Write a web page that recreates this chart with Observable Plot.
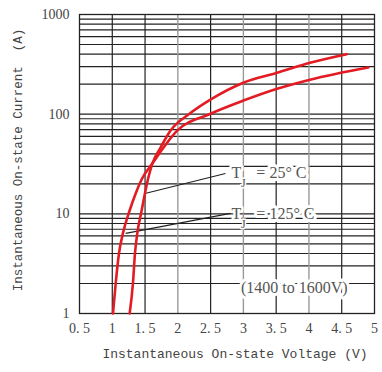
<!DOCTYPE html>
<html><head><meta charset="utf-8">
<script src="https://cdn.jsdelivr.net/npm/d3@7"></script>
<script src="https://cdn.jsdelivr.net/npm/@observablehq/plot@0.6"></script>
<style>body{margin:0;background:#fff}</style>
</head><body><div id="chart"></div>
<script>
// Tj = 25°C curve
const v25 = [1.265, 1.315, 1.346, 1.382, 1.448, 1.498, 1.547, 1.611, 1.737, 1.889, 2.178, 2.497, 3.0, 3.515, 4.017, 4.577];
const i25 = [1.0, 2.0, 4.0, 6.4, 10.8, 16.0, 22.6, 31.9, 46.2, 68.4, 101, 140, 207, 260, 328, 400];
// Tj = 125°C curve
const v125 = [1.011, 1.052, 1.102, 1.163, 1.265, 1.357, 1.455, 1.611, 1.991, 2.497, 3.0, 3.515, 4.017, 4.906];
const i125 = [1.0, 2.0, 4.0, 6.4, 10.8, 16.0, 22.6, 31.9, 68.4, 101, 137, 180, 222, 294];

const xTicks = [0.5, 1, 1.5, 2, 2.5, 3, 3.5, 4, 4.5, 5];
const xTickLabels = ["0. 5", "1", "1. 5", "2", "2. 5", "3", "3. 5", "4", "4. 5", "5"];
const yTicks = [1, 10, 100, 1000];
const yTickLabels = ["1", "10", "100", "1000"];
const yGrid = [2,3,4,5,6,7,8,9,10,20,30,40,50,60,70,80,90,100,200,300,400,500,600,700,800,900];
const xGridDark = [1, 1.5, 2.5, 3.5, 4.5];
const xGridGray = [2, 3, 4];

const xLabel = "Instantaneous On-state Voltage (V)";
const yLabel = "Instantaneous On-state Current\u00a0\u00a0(A)";

// annotations
const annT = ["T", "T"];
const annSub = ["J", "J"];
const annRest = ["=\u00a025°\u00a0C", "=\u00a0125°\u00a0C"];
const annTV = [2.817, 2.817];
const annTI = [25.7, 10.1];
const annSubV = [3.0, 3.0];
const annSubI = [20.2, 7.9];
const annRestV = [3.198, 3.198];
const leaderV1 = [1.498, 1.204];
const leaderI1 = [16.0, 6.36];
const leaderV2 = [2.726, 2.802];
const leaderI2 = [25.4, 10.1];
const rangeText = ["(1400 to 1600V)"];
const rangeV = [3.776];
const rangeI = [1.79];

const red = "#e31b23";
const c25 = v25.map((v, k) => ({v, i: i25[k]}));
const c125 = v125.map((v, k) => ({v, i: i125[k]}));
const ann = annT.map((t, k) => ({t, sub: annSub[k], rest: annRest[k], tv: annTV[k], ti: annTI[k], sv: annSubV[k], si: annSubI[k], rv: annRestV[k]}));
const leaders = leaderV1.map((v, k) => ({x1: v, y1: leaderI1[k], x2: leaderV2[k], y2: leaderI2[k]}));
const range = rangeText.map((t, k) => ({t, v: rangeV[k], i: rangeI[k]}));

const chart = Plot.plot({
  width: 382, height: 372,
  marginLeft: 79, marginRight: 8, marginTop: 14, marginBottom: 59,
  style: {background: "#fff", color: "#444"},
  x: {domain: [0.5, 5]},
  y: {type: "log", domain: [1, 1000]},
  marks: [
    Plot.ruleY(yGrid, {stroke: "#222", strokeWidth: 1.2}),
    Plot.ruleX(xGridDark, {stroke: "#222", strokeWidth: 1.2}),
    Plot.ruleX(xGridGray, {stroke: "#999", strokeWidth: 1.4}),
    Plot.frame({stroke: "#222", strokeWidth: 1.3}),
    Plot.text(range, {x: "v", y: "i", text: "t", fontFamily: "Liberation Serif", fontSize: 16, fill: "#555", stroke: "#fff", strokeWidth: 6}),
    Plot.text(ann, {x: "rv", y: "ti", text: "rest", textAnchor: "start", fontFamily: "Liberation Serif", fontSize: 16, fill: "#555", stroke: "#fff", strokeWidth: 6}),
    Plot.text(ann, {x: "tv", y: "ti", text: "t", textAnchor: "start", fontFamily: "Liberation Serif", fontSize: 16, fill: "#555", stroke: "#fff", strokeWidth: 5}),
    Plot.text(ann, {x: "sv", y: "si", text: "sub", fontFamily: "Liberation Serif", fontSize: 12, fill: "#555", stroke: "#fff", strokeWidth: 3}),
    Plot.link(leaders, {x1: "x1", y1: "y1", x2: "x2", y2: "y2", stroke: "#222", strokeWidth: 1.2}),
    Plot.line(c125, {x: "v", y: "i", stroke: red, strokeWidth: 2.6, curve: "monotone-x"}),
    Plot.line(c25, {x: "v", y: "i", stroke: red, strokeWidth: 2.6, curve: "monotone-x"}),
    Plot.axisX({ticks: xTicks, tickFormat: d => xTickLabels[xTicks.indexOf(d)], tickSize: 0, tickPadding: 10, label: null, fontFamily: "Liberation Serif", fontSize: 14, fill: "#444"}),
    Plot.axisY({ticks: yTicks, tickFormat: d => yTickLabels[yTicks.indexOf(d)], tickSize: 0, tickPadding: 10, label: null, fontFamily: "Liberation Serif", fontSize: 14, fill: "#444"}),
    Plot.text([xLabel], {frameAnchor: "bottom", dx: 8, dy: 44, fontFamily: "Liberation Mono", fontSize: 13, fill: "#444"}),
    Plot.text([yLabel], {frameAnchor: "left", textAnchor: "middle", rotate: -90, dx: -62, dy: -4, fontFamily: "Liberation Mono", fontSize: 12.5, fill: "#444"})
  ]
});
document.getElementById("chart").appendChild(chart);
</script>
</body></html>
